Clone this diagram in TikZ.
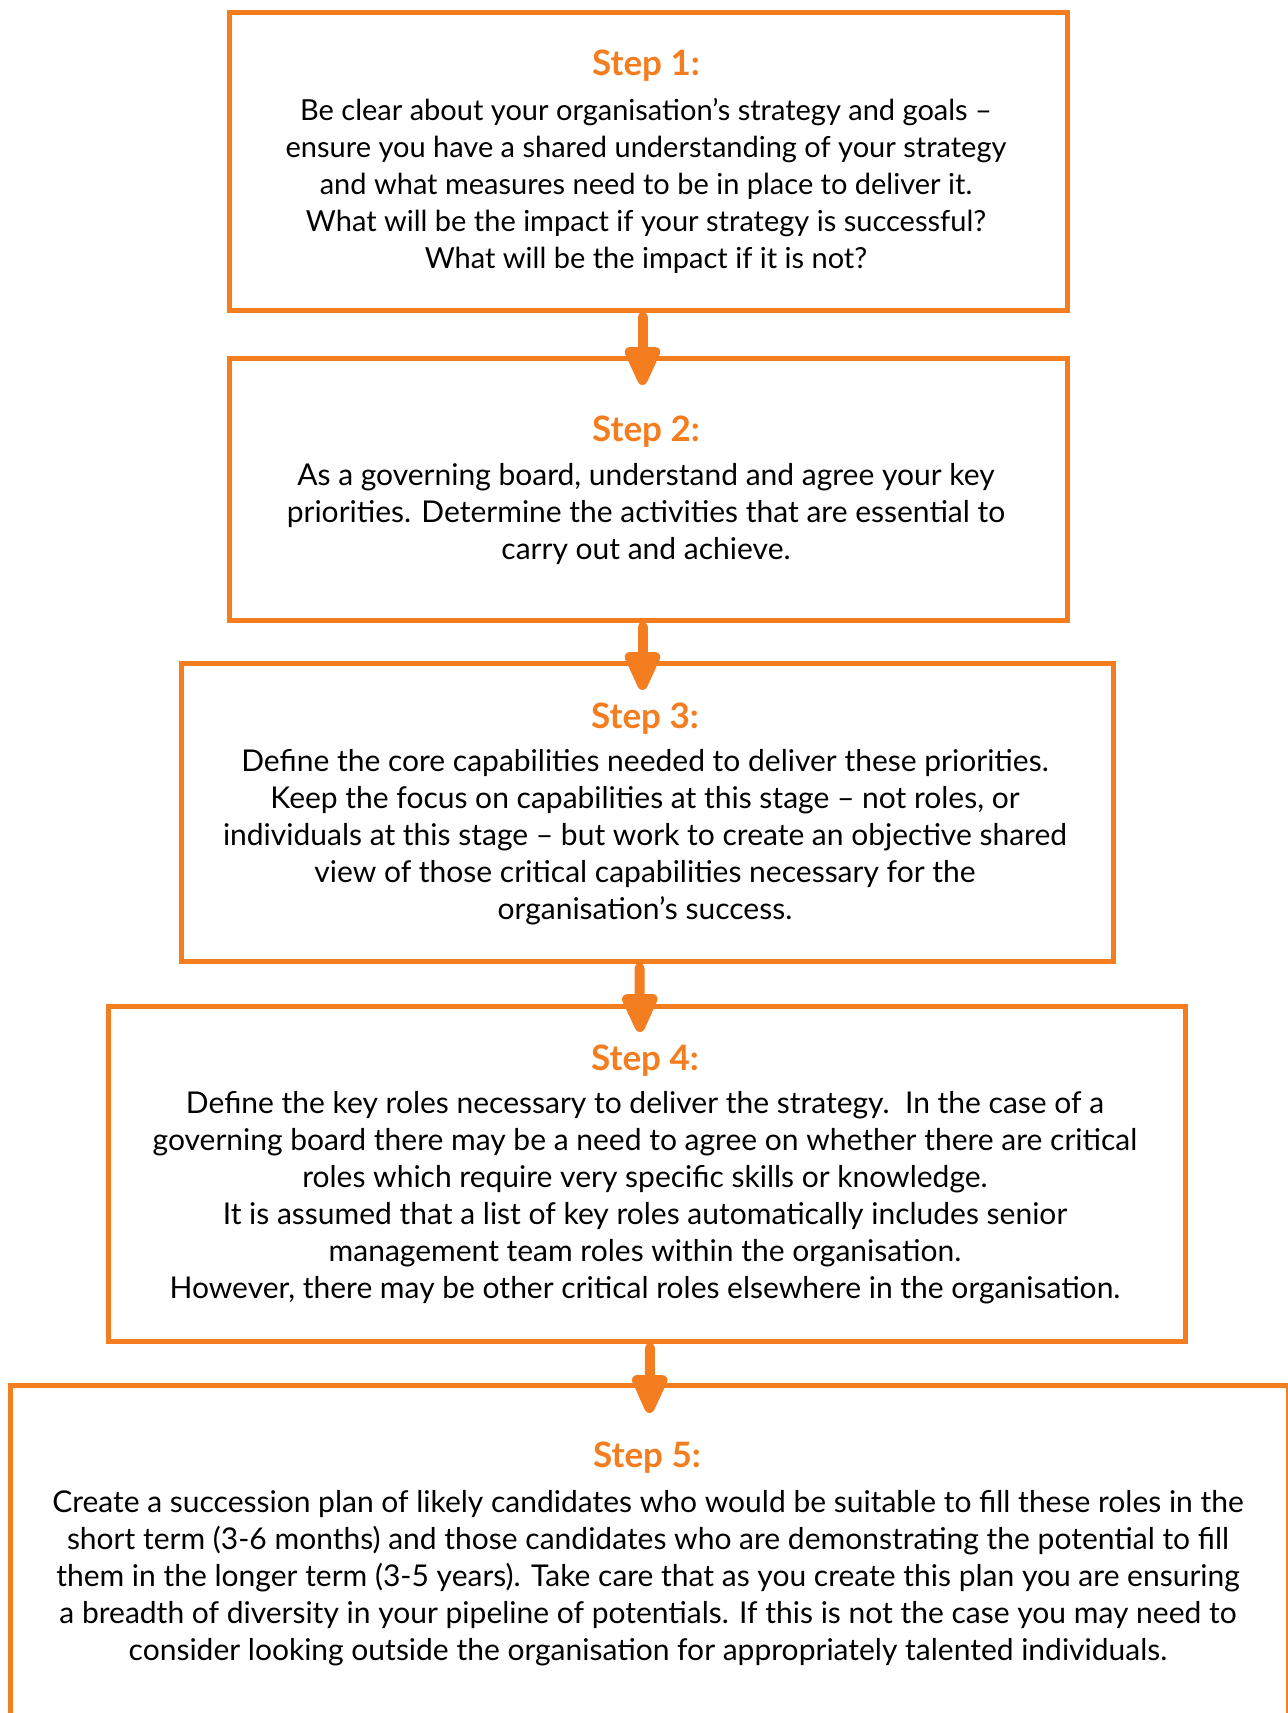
\documentclass[tikz,border=0pt]{standalone}
\usepackage{fontspec}
\setmainfont{Lato}
\usetikzlibrary{arrows.meta}
\definecolor{stepor}{RGB}{244,125,32}
\begin{document}
\begin{tikzpicture}[x=0.5pt,y=-0.5pt,
  stepbox/.style={draw=stepor,line width=2.5pt,rectangle,inner sep=0pt,anchor=north west},
  head/.style={text=stepor,font=\fontsize{17.5}{21}\selectfont\bfseries,inner sep=0pt},
  body/.style={text=black,font=\fontsize{15}{18.5}\selectfont,align=center,inner sep=0pt},
  flow/.style={draw=stepor,line width=5pt,line cap=round,
    -{Triangle[width=19pt,length=23pt,round=false]}}]
\useasboundingbox (0,0) rectangle (1288,1713);
\clip (0,0) rectangle (1288,1713);
\fill[white] (0,0) rectangle (1288,1713);

% boxes
\node[stepbox,minimum width=419pt,minimum height=149pt] (b1) at (227,10) {};
\node[stepbox,minimum width=419pt,minimum height=131pt] (b2) at (227,356) {};
\node[stepbox,minimum width=466pt,minimum height=149pt] (b3) at (179,661) {};
\node[stepbox,minimum width=538.5pt,minimum height=167.5pt] (b4) at (106,1004) {};
\node[stepbox,minimum width=639pt,minimum height=200pt] (b5) at (8,1383) {};

% headings
\node[head] (h1) at (646,66) {Step 1:};
\node[head] (h2) at (646,432) {Step 2:};
\node[head] (h3) at (645,719) {Step 3:};
\node[head] (h4) at (645,1061) {Step 4:};
\node[head] (h5) at (647,1458) {Step 5:};

% texts
\node[body,font=\fontsize{14.5}{18.5}\selectfont] (t1) at (646,186) {Be clear about your organisation’s strategy and goals –\\
ensure you have a shared understanding of your strategy\\
and what measures need to be in place to deliver it.\\
What will be the impact if your strategy is successful?\\
What will be the impact if it is not?};
\node[body] (t2) at (646,514) {As a governing board, understand and agree your key\\
priorities. Determine the activities that are essential to\\
carry out and achieve.};
\node[body] (t3) at (645,837) {Define the core capabilities needed to deliver these priorities.\\
Keep the focus on capabilities at this stage – not roles, or\\
individuals at this stage – but work to create an objective shared\\
view of those critical capabilities necessary for the\\
organisation’s success.};
\node[body] (t4) at (645,1198) {Define the key roles necessary to deliver the strategy.\ \ In the case of a\\
governing board there may be a need to agree on whether there are critical\\
roles which require very specific skills or knowledge.\\
It is assumed that a list of key roles automatically includes senior\\
management team roles within the organisation.\\
However, there may be other critical roles elsewhere in the organisation.};
\node[body] (t5) at (648,1578) {Create a succession plan of likely candidates who would be suitable to fill these roles in the\\
short term (3-6 months) and those candidates who are demonstrating the potential to fill\\
them in the longer term (3-5 years). Take care that as you create this plan you are ensuring\\
a breadth of diversity in your pipeline of potentials. If this is not the case you may need to\\
consider looking outside the organisation for appropriately talented individuals.};

% arrows between steps
\draw[flow] ([xshift=-3pt,yshift=-2pt]b1.south) -- ([xshift=-3pt,yshift=-14.5pt]b2.north);
\draw[flow] ([xshift=-3pt,yshift=-2pt]b2.south) -- ([xshift=-2.5pt,yshift=-14.5pt]b3.north);
\draw[flow] ([xshift=-4pt,yshift=-2pt]b3.south) -- ([xshift=-3.5pt,yshift=-14pt]b4.north);
\draw[flow] ([xshift=1.5pt,yshift=-2pt]b4.south) -- ([xshift=0pt,yshift=-15pt]b5.north);
\end{tikzpicture}
\end{document}
